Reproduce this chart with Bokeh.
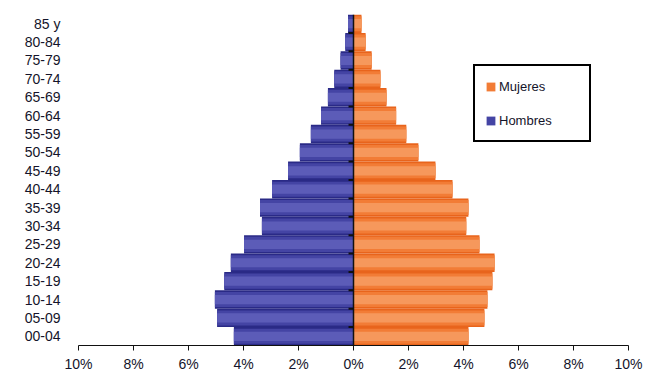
from bokeh.plotting import figure
from bokeh.models import (FactorRange, FixedTicker, CustomJSTickFormatter, Legend,
                          LegendItem, Span, ColumnDataSource)
from bokeh.embed import file_html
from bokeh.resources import INLINE

# ---- data ----
age_groups = ["00-04", "05-09", "10-14", "15-19", "20-24", "25-29", "30-34", "35-39",
              "40-44", "45-49", "50-54", "55-59", "60-64", "65-69", "70-74", "75-79",
              "80-84", "85 y"]
hombres = [4.35, 4.96, 5.04, 4.70, 4.46, 3.98, 3.33, 3.40, 2.96, 2.38, 1.95, 1.55,
           1.18, 0.93, 0.70, 0.47, 0.30, 0.20]
mujeres = [4.18, 4.76, 4.87, 5.05, 5.13, 4.58, 4.10, 4.18, 3.60, 2.98, 2.36, 1.92,
           1.55, 1.20, 0.98, 0.66, 0.44, 0.29]
x_ticks = [-10, -8, -6, -4, -2, 0, 2, 4, 6, 8, 10]

FONT = "Liberation Sans"
TEXT_COLOR = "#14142a"

src = ColumnDataSource(dict(
    age=age_groups,
    h_left=[-v for v in hombres],
    m_right=mujeres,
    zero=[0] * len(age_groups),
))

p = figure(width=646, height=374, output_backend="svg", toolbar_location=None,
           x_range=(-10, 10),
           y_range=FactorRange(factors=age_groups, range_padding=0, factor_padding=0),
           min_border_left=78, min_border_right=18, min_border_top=14, min_border_bottom=28)
p.outline_line_color = None
p.xgrid.visible = False
p.ygrid.visible = False
p.background_fill_color = "white"

# layered bars to mimic the shaded look
blue_layers = [("#2a2a86", 1.0), ("#4444a4", 0.82), ("#5c5cb8", 0.5)]
orange_layers = [("#e8641c", 1.0), ("#f27c36", 0.82), ("#f6985c", 0.5)]

h_renderers = []
for color, h in blue_layers:
    r = p.hbar(y="age", left="h_left", right="zero", height=h, source=src,
               fill_color=color, line_color=None)
    h_renderers.append(r)
m_renderers = []
for color, h in orange_layers:
    r = p.hbar(y="age", left="zero", right="m_right", height=h, source=src,
               fill_color=color, line_color=None)
    m_renderers.append(r)

# center axis line with small ticks at category boundaries
p.add_layout(Span(location=0, dimension="height", line_color="#111111", line_width=1.5))
n = len(age_groups)
bounds = list(range(1, n))
p.segment(x0=[-0.18] * len(bounds), x1=[0] * len(bounds),
          y0=bounds, y1=bounds, line_color="#111111", line_width=2)

# x axis
xa = p.xaxis[0]
xa.ticker = FixedTicker(ticks=x_ticks)
xa.formatter = CustomJSTickFormatter(code="return Math.abs(tick) + '%';")
xa.axis_line_color = "#111111"
xa.axis_line_width = 1.2
xa.major_tick_line_color = "#111111"
xa.major_tick_in = 0
xa.major_tick_out = 5
xa.minor_tick_line_color = None
xa.major_label_text_font = FONT
xa.major_label_text_font_size = "14px"
xa.major_label_text_color = TEXT_COLOR
xa.major_label_standoff = 5

# y axis (labels only)
ya = p.yaxis[0]
ya.axis_line_color = None
ya.major_tick_line_color = None
ya.minor_tick_line_color = None
ya.major_label_text_font = FONT
ya.major_label_text_font_size = "14px"
ya.major_label_text_color = TEXT_COLOR
ya.major_label_standoff = 12

legend = Legend(items=[LegendItem(label="Mujeres", renderers=[m_renderers[1]]),
                       LegendItem(label="Hombres", renderers=[h_renderers[1]])],
                location=(395, 203))
legend.label_text_font = FONT
legend.label_text_font_size = "13px"
legend.label_text_color = TEXT_COLOR
legend.glyph_width = 11
legend.glyph_height = 11
legend.label_height = 20
legend.label_width = 80
legend.spacing = 14
legend.padding = 10
legend.label_standoff = 3
legend.border_line_color = "black"
legend.border_line_alpha = 1.0
legend.border_line_width = 2
legend.background_fill_color = "white"
legend.background_fill_alpha = 1
p.add_layout(legend)

open("out.html", "w").write(file_html(p, INLINE))
